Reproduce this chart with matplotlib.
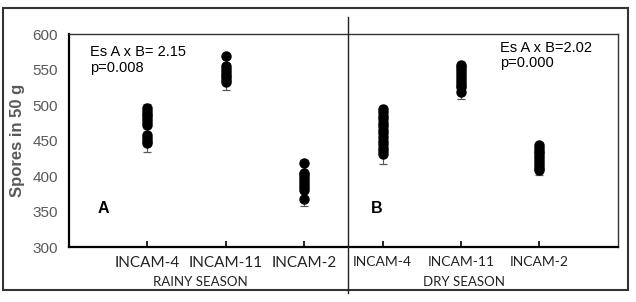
import matplotlib.pyplot as plt
import numpy as np

# spore counts per treatment
categories = ["INCAM-4", "INCAM-11", "INCAM-2", "INCAM-4", "INCAM-11", "INCAM-2"]
rainy_incam4 = [496, 492, 488, 484, 480, 476, 472, 458, 454, 450, 446]
rainy_incam11 = [569, 555, 551, 547, 543, 539, 535, 532]
rainy_incam2 = [418, 405, 401, 397, 393, 389, 385, 381, 368]
dry_incam4 = [495, 490, 485, 480, 475, 470, 465, 460, 455, 450, 445, 440, 435, 431]
dry_incam11 = [557, 553, 549, 545, 541, 537, 533, 529, 525, 519]
dry_incam2 = [444, 440, 436, 432, 428, 424, 420, 416, 412, 408]
err_low = [434, 521, 358, 417, 508, 401]
err_high = [501, 572, 421, 499, 561, 446]

groups = [rainy_incam4, rainy_incam11, rainy_incam2, dry_incam4, dry_incam11, dry_incam2]

fig = plt.figure(figsize=(6.36, 3.02), dpi=100)
ax = fig.add_axes([0.1085, 0.182, 0.863, 0.705])

gray = "#595959"
for i, vals in enumerate(groups):
    x = i + 1
    mean = np.mean(vals)
    ax.errorbar([x], [mean], yerr=[[mean - err_low[i]], [err_high[i] - mean]],
                fmt="none", ecolor=gray, elinewidth=0.8, capsize=3, capthick=0.9, zorder=2)
    ax.plot([x] * len(vals), vals, "o", color="black", markersize=6.5, zorder=3)

ax.set_xlim(0, 7)
ax.set_ylim(300, 600)
ax.set_yticks(range(300, 601, 50))
ax.set_xticks(range(1, 7))
ax.set_xticklabels([])
ax.tick_params(axis="y", length=0, labelsize=11, labelcolor=gray, pad=8)
ax.tick_params(axis="x", direction="in", length=4, width=1.2)
for lab in ax.get_yticklabels():
    lab.set_family("Liberation Sans")

for i, c in enumerate(categories):
    fs = 11 if i < 3 else 10
    ax.text(i + 1, 287, c, ha="center", va="top", fontsize=fs, family="Lato", color="#222222")
ax.text(1.67, 259, "RAINY SEASON", ha="center", va="top", fontsize=9.5, family="Lato", color="#222222")
ax.text(5.04, 259, "DRY SEASON", ha="center", va="top", fontsize=9.5, family="Lato", color="#222222")

for s in ["left", "bottom"]:
    ax.spines[s].set_linewidth(1.6)
for s in ["top", "right"]:
    ax.spines[s].set_linewidth(1.0)
    ax.spines[s].set_color("#333333")

ax.set_ylabel("Spores in 50 g", fontsize=12, fontweight="bold", color=gray,
              family="Liberation Sans", labelpad=5)

ax.text(0.27, 584, "Es A x B= 2.15\np=0.008", fontsize=10.5, family="Liberation Sans",
        va="top", linespacing=1.1)
ax.text(5.5, 590, "Es A x B=2.02\np=0.000", fontsize=10.5, family="Liberation Sans",
        va="top", linespacing=1.1)
ax.text(0.36, 355, "A", fontsize=11.5, fontweight="bold", family="Liberation Sans", va="center")
ax.text(3.85, 355, "B", fontsize=11.5, fontweight="bold", family="Liberation Sans", va="center")

# outer frame and season divider
fig.patches.append(plt.Rectangle((0.004, 0.04), 0.984, 0.933, transform=fig.transFigure,
                                 fill=False, edgecolor="#333333", linewidth=1.5))
fig.lines.append(plt.Line2D([0.547, 0.547], [0.03, 0.944], transform=fig.transFigure,
                            color="#222222", linewidth=1.0))

fig.savefig("out.png", dpi=100)
